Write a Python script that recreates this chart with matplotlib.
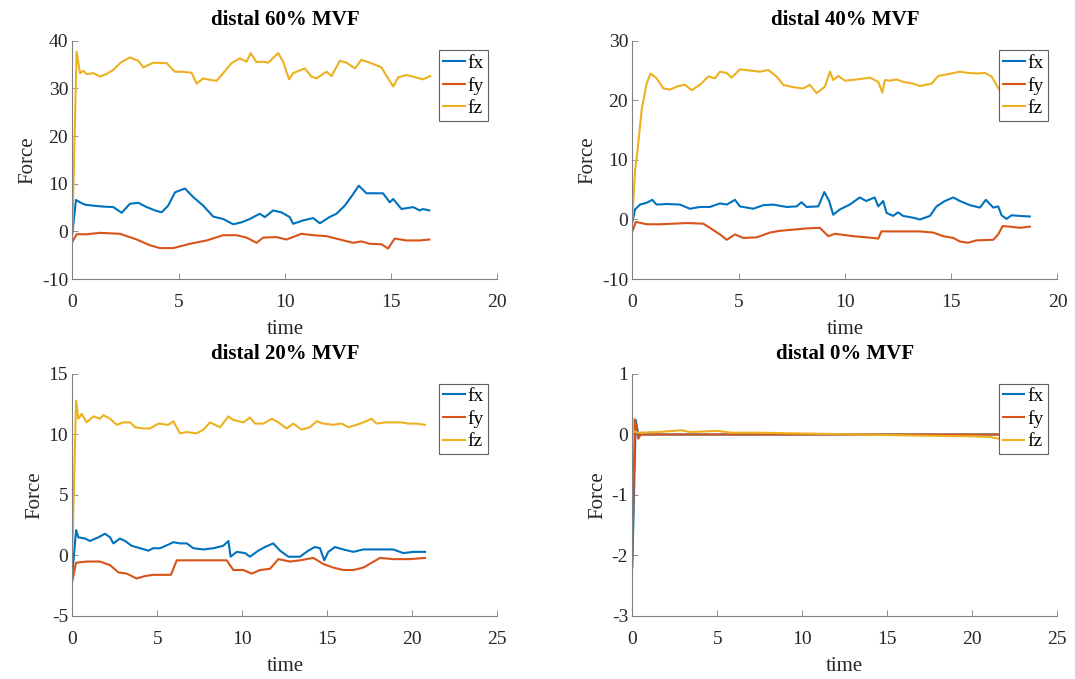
import numpy as np
import matplotlib
matplotlib.use('Agg')
import matplotlib.pyplot as plt

# ── Colores MATLAB por defecto ──────────────────────────────────────────────
C_FX = '#0072BD'
C_FY = '#D95319'
C_FZ = '#EDB120'

plt.rcParams['font.family'] = ['Liberation Serif', 'DejaVu Serif']
plt.rcParams['axes.unicode_minus'] = False

# ── distal 60% MVF ──────────────────────────────────────────────────────────
t60_fz = [0, 0.2, 0.36, 0.52, 0.67, 0.99, 1.3, 1.6, 1.93, 2.3, 2.71, 3.1, 3.34, 3.81,
          4.44, 4.83, 5.14, 5.61, 5.85, 6.16, 6.47, 6.79, 7.1, 7.49, 7.88, 8.2, 8.39,
          8.67, 8.98, 9.22, 9.69, 9.92, 10.2, 10.39, 10.94, 11.25, 11.49, 11.96, 12.2,
          12.59, 12.9, 13.3, 13.6, 14.0, 14.55, 14.86, 15.1, 15.33, 15.72, 16.0, 16.5, 16.85]
fz60 = [0, 37.7, 33.2, 33.7, 33.0, 33.2, 32.5, 33.0, 33.9, 35.5, 36.5, 35.8, 34.4, 35.4,
        35.3, 33.5, 33.5, 33.3, 31.0, 32.1, 31.8, 31.6, 33.2, 35.3, 36.3, 35.6, 37.4,
        35.5, 35.6, 35.4, 37.4, 35.6, 31.9, 33.2, 34.2, 32.5, 32.1, 33.5, 32.6,
        35.8, 35.4, 34.2, 36.0, 35.4, 34.4, 32.1, 30.4, 32.3, 32.8, 32.5, 31.9, 32.6]
t60_fx = [0, 0.17, 0.36, 0.6, 0.99, 1.46, 1.93, 2.32, 2.71, 3.1, 3.5, 3.89, 4.2, 4.51,
          4.83, 5.3, 5.69, 6.16, 6.63, 7.1, 7.57, 7.96, 8.35, 8.82, 9.06, 9.45, 9.84,
          10.23, 10.39, 10.86, 11.33, 11.65, 12.1, 12.43, 12.82, 13.21, 13.48, 13.84,
          14.62, 14.94, 15.1, 15.49, 16.04, 16.35, 16.5, 16.8]
fx60 = [-0.5, 6.6, 6.1, 5.6, 5.4, 5.2, 5.1, 3.9, 5.8, 6.0, 5.1, 4.4, 4.0, 5.4,
        8.2, 9.0, 7.2, 5.4, 3.1, 2.6, 1.5, 1.9, 2.6, 3.7, 3.0, 4.4, 4.0,
        3.0, 1.6, 2.3, 2.8, 1.7, 3.0, 3.7, 5.4, 7.8, 9.6, 8.0,
        8.0, 6.1, 6.8, 4.7, 5.1, 4.4, 4.7, 4.4]
t60_fy = [0, 0.2, 0.67, 1.3, 2.24, 3.03, 3.65, 4.12, 4.75, 5.53, 6.32, 7.1, 7.73, 8.2,
          8.67, 8.98, 9.61, 10.08, 10.78, 11.33, 11.96, 12.59, 13.21, 13.6, 14.0, 14.55,
          14.86, 15.17, 15.72, 16.35, 16.8]
fy60 = [-2.2, -0.6, -0.6, -0.3, -0.5, -1.7, -2.9, -3.5, -3.5, -2.6, -1.9, -0.8, -0.8, -1.3,
        -2.4, -1.3, -1.2, -1.7, -0.5, -0.8, -1.0, -1.7, -2.4, -2.1, -2.6, -2.7,
        -3.6, -1.5, -1.9, -1.9, -1.7]

# ── distal 40% MVF ──────────────────────────────────────────────────────────
t40_fz = [0, 0.13, 0.24, 0.44, 0.67, 0.86, 1.14, 1.46, 1.77, 2.16, 2.48, 2.79, 3.18, 3.57,
          3.89, 4.12, 4.44, 4.67, 5.06, 5.53, 6.0, 6.39, 6.79, 7.1, 7.57, 8.04, 8.35,
          8.67, 9.06, 9.3, 9.45, 9.69, 10.0, 10.55, 11.18, 11.57, 11.76, 11.88, 12.12,
          12.43, 12.74, 13.21, 13.53, 14.08, 14.39, 14.86, 15.41, 15.8, 16.19, 16.58,
          16.9, 17.13, 17.29, 17.7, 18.2, 18.7]
fz40 = [0, 8.3, 11.4, 18.4, 22.8, 24.5, 23.7, 22.0, 21.8, 22.4, 22.6, 21.7, 22.6, 24.0,
        23.7, 24.8, 24.6, 23.8, 25.2, 25.0, 24.8, 25.1, 24.0, 22.6, 22.2, 22.0, 22.6,
        21.2, 22.3, 24.8, 23.4, 24.1, 23.3, 23.5, 23.8, 23.1, 21.3, 23.4, 23.3,
        23.5, 23.1, 22.8, 22.4, 22.8, 24.1, 24.4, 24.8, 24.6, 24.5, 24.6,
        24.0, 22.6, 21.6, 22.0, 22.3, 22.1]
t40_fx = [0, 0.13, 0.36, 0.67, 0.94, 1.14, 1.61, 2.24, 2.71, 3.18, 3.65, 4.12, 4.44, 4.83,
          5.06, 5.69, 6.16, 6.63, 7.26, 7.73, 7.96, 8.2, 8.75, 9.03, 9.26, 9.45, 9.77,
          10.23, 10.7, 11.0, 11.4, 11.57, 11.8, 11.96, 12.27, 12.5, 12.74, 13.21, 13.53,
          14.0, 14.31, 14.7, 15.1, 15.41, 15.88, 16.35, 16.63, 16.98, 17.21, 17.37, 17.6,
          17.84, 18.23, 18.7]
fx40 = [-0.5, 1.7, 2.5, 2.8, 3.3, 2.5, 2.6, 2.5, 1.8, 2.1, 2.1, 2.7, 2.5, 3.3,
        2.2, 1.8, 2.4, 2.5, 2.1, 2.2, 2.9, 2.1, 2.2, 4.6, 3.1, 0.8, 1.7,
        2.5, 3.7, 3.1, 3.7, 2.2, 3.1, 1.1, 0.6, 1.2, 0.6, 0.3, 0.0,
        0.6, 2.2, 3.1, 3.7, 3.1, 2.4, 2.0, 3.3, 2.0, 2.2, 0.7, 0.1,
        0.7, 0.6, 0.5]
t40_fy = [0, 0.17, 0.67, 1.3, 1.93, 2.56, 3.34, 3.65, 4.12, 4.44, 4.83, 5.22, 5.85, 6.47,
          6.94, 7.57, 8.2, 8.82, 9.22, 9.53, 10.39, 11.02, 11.57, 11.72, 12.43, 13.53,
          14.16, 14.62, 15.1, 15.41, 15.8, 16.19, 16.98, 17.21, 17.42, 17.76, 18.23, 18.7]
fy40 = [-2.0, -0.4, -0.8, -0.8, -0.7, -0.6, -0.7, -1.4, -2.5, -3.4, -2.5, -3.1, -3.0, -2.2,
        -1.9, -1.7, -1.5, -1.4, -2.8, -2.4, -2.8, -3.0, -3.2, -2.0, -2.0, -2.0,
        -2.2, -2.8, -3.1, -3.7, -3.9, -3.5, -3.4, -2.5, -1.1, -1.2, -1.4, -1.2]

# ── distal 20% MVF ──────────────────────────────────────────────────────────
t20_fz = [0, 0.22, 0.35, 0.55, 0.84, 1.24, 1.63, 1.82, 2.22, 2.61, 3.0, 3.4, 3.69, 4.18,
          4.57, 5.06, 5.65, 5.94, 6.33, 6.73, 7.31, 7.71, 8.1, 8.69, 9.18, 9.47, 10.06,
          10.45, 10.75, 11.24, 11.73, 12.12, 12.61, 13.0, 13.49, 13.98, 14.37, 14.76,
          15.35, 15.84, 16.24, 16.73, 17.12, 17.61, 17.9, 18.39, 18.78, 19.37, 19.76,
          20.25, 20.75]
fz20 = [0.3, 12.8, 11.3, 11.7, 11.0, 11.5, 11.3, 11.6, 11.3, 10.8, 11.0, 11.0, 10.6, 10.5,
        10.5, 10.9, 10.8, 11.1, 10.1, 10.2, 10.1, 10.4, 11.0, 10.6, 11.5, 11.2, 11.0,
        11.4, 10.9, 10.9, 11.3, 11.0, 10.5, 10.9, 10.4, 10.6, 11.1, 10.9,
        10.8, 10.9, 10.6, 10.8, 11.0, 11.3, 10.9, 11.0, 11.0, 11.0, 10.9,
        10.9, 10.8]
t20_fx = [0, 0.22, 0.35, 0.75, 1.04, 1.53, 1.92, 2.22, 2.41, 2.8, 3.1, 3.49, 3.98, 4.47,
          4.76, 5.16, 5.65, 5.94, 6.33, 6.73, 7.12, 7.71, 8.29, 8.88, 9.18, 9.31, 9.67,
          10.16, 10.45, 10.94, 11.33, 11.82, 12.22, 12.71, 13.39, 13.88, 14.27, 14.57,
          14.82, 15.06, 15.45, 15.94, 16.53, 17.12, 17.9, 18.88, 19.47, 20.06, 20.75]
fx20 = [-1.5, 2.1, 1.5, 1.4, 1.2, 1.5, 1.8, 1.5, 1.0, 1.4, 1.2, 0.8, 0.6, 0.4,
        0.6, 0.6, 0.9, 1.1, 1.0, 1.0, 0.6, 0.5, 0.6, 0.8, 1.2, -0.1, 0.3,
        0.2, -0.1, 0.4, 0.7, 1.0, 0.4, -0.1, -0.1, 0.4, 0.7, 0.6,
        -0.4, 0.3, 0.7, 0.5, 0.3, 0.5, 0.5, 0.5, 0.2, 0.3, 0.3]
t20_fy = [0, 0.22, 0.84, 1.63, 2.22, 2.71, 3.2, 3.78, 4.27, 4.76, 5.55, 5.8, 6.14, 6.73,
          7.71, 9.08, 9.47, 10.06, 10.55, 11.04, 11.63, 12.12, 12.8, 13.39, 14.18, 14.76,
          15.35, 15.94, 16.53, 17.12, 17.61, 18.1, 18.88, 19.86, 20.75]
fy20 = [-2.1, -0.6, -0.5, -0.5, -0.8, -1.4, -1.5, -1.9, -1.7, -1.6, -1.6, -1.6, -0.4, -0.4,
        -0.4, -0.4, -1.2, -1.2, -1.5, -1.2, -1.1, -0.3, -0.5, -0.4, -0.2, -0.7,
        -1.0, -1.2, -1.2, -1.0, -0.6, -0.2, -0.3, -0.3, -0.2]

# ── distal 0% MVF ───────────────────────────────────────────────────────────
t0_fz = [0, 0.05, 0.3, 1.5, 2.9, 3.4, 5.0, 5.8, 7.3, 9.3, 13.2, 17.1, 20.0, 21.0, 21.6, 22.0]
fz0 = [0.26, 0.06, 0.03, 0.04, 0.07, 0.04, 0.06, 0.03, 0.03, 0.02, 0.0, -0.02, -0.03,
       -0.04, -0.07, -0.07]
t0_fx = [0, 0.2, 0.35, 5.0, 10.0, 15.0, 22.0]
fx0 = [-2.2, 0.24, 0.0, 0.0, 0.0, 0.0, 0.0]
t0_fy = [0, 0.15, 0.35, 0.5, 5.0, 10.0, 15.0, 22.0]
fy0 = [-2.05, 0.25, -0.07, 0.0, 0.0, 0.0, 0.0, 0.0]

PANELS = [
    ('distal 60% MVF', (t60_fx, fx60), (t60_fy, fy60), (t60_fz, fz60), (0, 20, 5), (-10, 40, 10)),
    ('distal 40% MVF', (t40_fx, fx40), (t40_fy, fy40), (t40_fz, fz40), (0, 20, 5), (-10, 30, 10)),
    ('distal 20% MVF', (t20_fx, fx20), (t20_fy, fy20), (t20_fz, fz20), (0, 25, 5), (-5, 15, 5)),
    ('distal 0% MVF', (t0_fx, fx0), (t0_fy, fy0), (t0_fz, fz0), (0, 25, 5), (-3, 1, 1)),
]

# posiciones [izq, abajo, ancho, alto] en fracción de figura
POS = [
    [0.0673, 0.589, 0.3953, 0.351],
    [0.5882, 0.589, 0.3955, 0.351],
    [0.0673, 0.0928, 0.3953, 0.3564],
    [0.5882, 0.0928, 0.3953, 0.3564],
]

GRAY = '#262626'

fig = plt.figure(figsize=(10.75, 6.79), dpi=100)

for pos, (title, fx, fy, fz, xl, yl) in zip(POS, PANELS):
    ax = fig.add_axes(pos)
    ax.plot(fx[0], fx[1], color=C_FX, lw=1.5, label='fx')
    ax.plot(fy[0], fy[1], color=C_FY, lw=1.5, label='fy')
    ax.plot(fz[0], fz[1], color=C_FZ, lw=1.5, label='fz')

    ax.set_xlim(xl[0], xl[1])
    ax.set_ylim(yl[0], yl[1])
    ax.set_xticks(np.arange(xl[0], xl[1] + 0.01, xl[2]))
    ax.set_yticks(np.arange(yl[0], yl[1] + 0.01, yl[2]))

    for s in ('top', 'right'):
        ax.spines[s].set_visible(False)
    for s in ('left', 'bottom'):
        ax.spines[s].set_color('#808080')
        ax.spines[s].set_linewidth(0.8)
    ax.tick_params(direction='in', length=4, width=0.6, color='#808080',
                   labelsize=14, labelcolor=GRAY)
    ax.tick_params(axis='x', pad=11)
    ax.tick_params(axis='y', pad=3)

    ax.set_title(title, fontsize=15, fontweight='bold', pad=11)
    ax.set_xlabel('time', fontsize=15, color=GRAY, labelpad=6)
    ax.set_ylabel('Force', fontsize=15, color=GRAY, labelpad=3)

    leg = ax.legend(loc='upper right', fontsize=14, frameon=True, fancybox=False,
                    framealpha=1, edgecolor='#606060', handlelength=1.1,
                    handletextpad=0.15, labelspacing=0.25, borderpad=0.2,
                    borderaxespad=0.5)
    leg.get_frame().set_linewidth(0.8)

fig.savefig('out.png', dpi=100)
plt.close(fig)
